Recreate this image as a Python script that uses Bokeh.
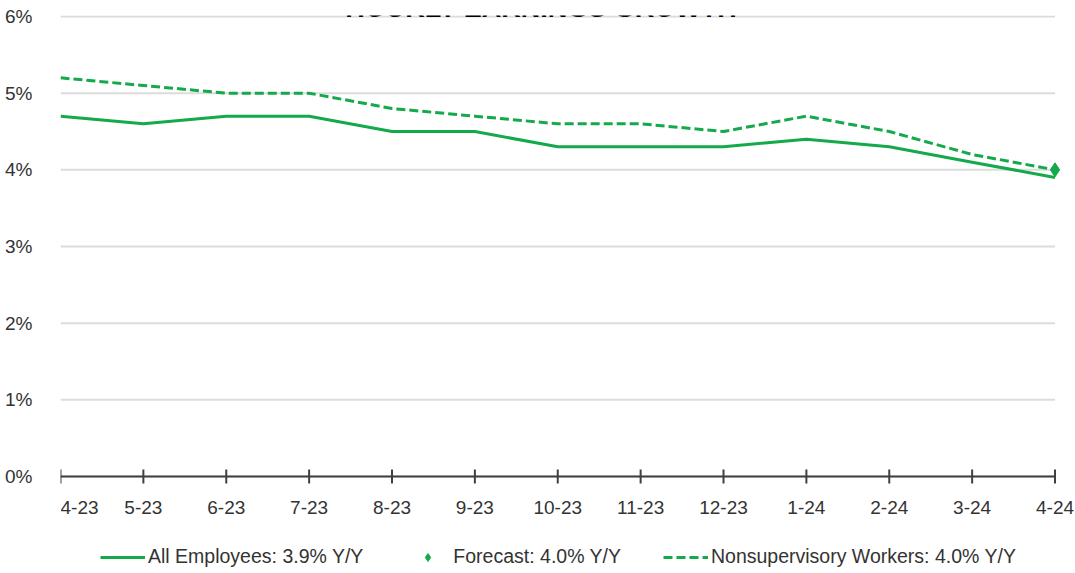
import math
from bokeh.plotting import figure
from bokeh.models import Range1d, FixedTicker, PrintfTickFormatter, Legend, LegendItem, Label
from bokeh.core.properties import value
from bokeh.embed import file_html
from bokeh.resources import INLINE

months = ["4-23", "5-23", "6-23", "7-23", "8-23", "9-23", "10-23", "11-23", "12-23", "1-24", "2-24", "3-24", "4-24"]
all_employees = [4.7, 4.6, 4.7, 4.7, 4.5, 4.5, 4.3, 4.3, 4.3, 4.4, 4.3, 4.1, 3.9]
nonsupervisory = [5.2, 5.1, 5.0, 5.0, 4.8, 4.7, 4.6, 4.6, 4.5, 4.7, 4.5, 4.2, 4.0]
forecast_month = "4-24"
forecast_value = 4.0
y_ticks = [0, 1, 2, 3, 4, 5, 6]

GREEN = "#14a94b"
AXIS = "#404040"
GRID = "#dcdcdc"
FONT = "Liberation Sans"

x = list(range(len(months)))
zeros = [0] * len(months)

# layout: plot area 461px tall for 0..6.013, plus 97px below the zero line for axis labels + legend
Y_TOP = 6.013
PX_PLOT = 461
PX_BELOW = 97
y_start = -PX_BELOW * Y_TOP / PX_PLOT
FRAME_W = 1015
X_END = 12.03 * FRAME_W / 997

p = figure(width=1075, height=573, frame_width=FRAME_W, frame_height=PX_PLOT + PX_BELOW,
           x_range=Range1d(0, X_END), y_range=Range1d(y_start, Y_TOP),
           output_backend="svg", toolbar_location=None,
           min_border_left=60, min_border_right=0, min_border_top=15, min_border_bottom=0)
p.outline_line_color = None
p.xaxis.visible = False

p.yaxis.ticker = FixedTicker(ticks=y_ticks)
p.yaxis.formatter = PrintfTickFormatter(format="%d%%")
p.yaxis.axis_line_color = None
p.yaxis.major_tick_line_color = None
p.yaxis.minor_tick_line_color = None
p.yaxis.major_label_standoff = 22
p.yaxis.major_label_text_font = FONT
p.yaxis.major_label_text_font_size = "19px"
p.yaxis.major_label_text_color = "#333333"

p.xgrid.visible = False
p.ygrid.visible = False

# horizontal gridlines between first and last month
n_y = len(y_ticks)
p.segment(x0=[x[0]] * n_y, y0=y_ticks, x1=[x[-1]] * n_y, y1=y_ticks, line_color=GRID, line_width=2)

# x axis drawn at the zero line
p.line(x, zeros, line_color=AXIS, line_width=2)
p.scatter(x, zeros, marker="dash", angle=math.pi / 2, size=14, line_color=AXIS, line_width=2)
label_style = dict(y_offset=31, text_baseline="middle", text_font=value(FONT),
                   text_font_size="19px", text_color="#333333")
p.text(x=x[:1], y=zeros[:1], text=months[:1], text_align="left", **label_style)
p.text(x=x[1:], y=zeros[1:], text=months[1:], text_align="center", **label_style)

r_all = p.line(x, all_employees, line_color=GREEN, line_width=3)
r_non = p.line(x, nonsupervisory, line_color=GREEN, line_width=3, line_dash="9 4")
r_fc = p.scatter([months.index(forecast_month)], [forecast_value], marker="diamond", size=14,
                 fill_color=GREEN, line_color=GREEN)

title = Label(x=5.8, y=6.0, y_offset=8, text="HOURLY EARNINGS GROWTH", text_font=FONT,
              text_font_style="bold", text_font_size="27px", text_align="center",
              text_baseline="alphabetic", text_color="black")
p.add_layout(title)

legend = Legend(items=[
    LegendItem(label="All Employees: 3.9% Y/Y", renderers=[r_all]),
    LegendItem(label="Forecast: 4.0% Y/Y", renderers=[r_fc]),
    LegendItem(label="Nonsupervisory Workers: 4.0% Y/Y", renderers=[r_non]),
], location="bottom_left", orientation="horizontal", glyph_width=45, glyph_height=20,
    label_height=20, label_standoff=3, spacing=42, padding=0, margin=5,
    border_line_color=None, background_fill_alpha=0,
    label_text_font=FONT, label_text_font_size="19.5px", label_text_color="#333333")
legend.location = (40, 5)
p.add_layout(legend)

open("out.html", "w").write(file_html(p, INLINE))
